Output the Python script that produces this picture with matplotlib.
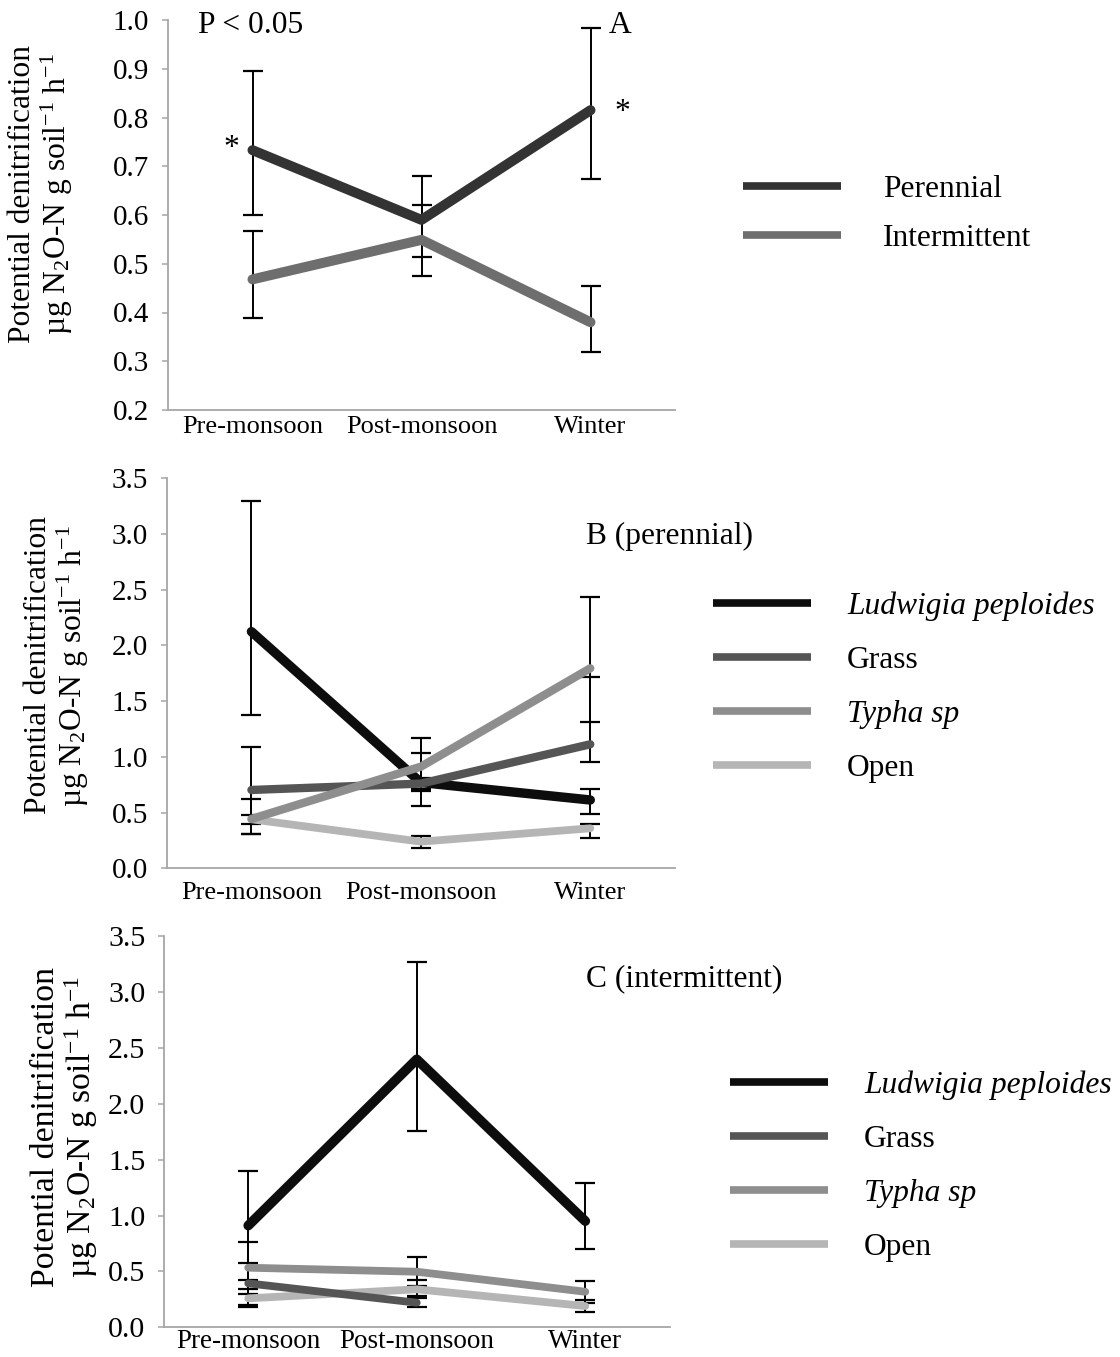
import numpy as np
import matplotlib
matplotlib.use("Agg")
import matplotlib.pyplot as plt
from matplotlib.ticker import FormatStrFormatter

plt.rcParams["font.family"] = ["Liberation Serif", "DejaVu Serif"]
plt.rcParams["mathtext.fontset"] = "custom"
plt.rcParams["mathtext.rm"] = "Liberation Serif"
plt.rcParams["mathtext.it"] = "Liberation Serif:italic"

seasons = ["Pre-monsoon", "Post-monsoon", "Winter"]

# Panel A: stream type
perennial = [0.733, 0.590, 0.815]
perennial_up = [0.162, 0.091, 0.168]
perennial_dn = [0.133, 0.076, 0.141]
intermittent = [0.468, 0.549, 0.380]
intermittent_up = [0.099, 0.072, 0.074]
intermittent_dn = [0.080, 0.074, 0.062]

# Panel B: vegetation, perennial streams
b_ludwigia = [2.124, 0.770, 0.613]
b_ludwigia_up = [1.176, 0.262, 0.099]
b_ludwigia_dn = [0.748, 0.211, 0.126]
b_grass = [0.703, 0.760, 1.113]
b_grass_up = [0.383, 0.050, 0.600]
b_grass_dn = [0.398, 0.050, 0.162]
b_typha = [0.443, 0.912, 1.795]
b_typha_up = [0.179, 0.255, 0.643]
b_typha_dn = [0.138, 0.215, 0.485]
b_open = [0.440, 0.239, 0.359]
b_open_up = [0.040, 0.051, 0.036]
b_open_dn = [0.040, 0.059, 0.090]

# Panel C: vegetation, intermittent streams
c_ludwigia = [0.910, 2.397, 0.950]
c_ludwigia_up = [0.488, 0.868, 0.344]
c_ludwigia_dn = [0.490, 0.641, 0.250]
c_grass = [0.393, 0.220, np.nan]
c_grass_up = [0.185, 0.040, 0.0]
c_grass_dn = [0.190, 0.040, 0.0]
c_typha = [0.533, 0.497, 0.318]
c_typha_up = [0.233, 0.129, 0.099]
c_typha_dn = [0.233, 0.130, 0.100]
c_open = [0.259, 0.340, 0.190]
c_open_up = [0.080, 0.083, 0.050]
c_open_dn = [0.075, 0.060, 0.050]

ylabel_text = "Potential denitrification\nµg N$_2$O-N g soil$^{-1}$ h$^{-1}$"

TICK_FS = 19
TEXT_FS = 22.7
SPINE = "#a6a6a6"

fig = plt.figure(figsize=(11.2, 13.57), dpi=100)
W, H = 1120, 1357


def make_axes(left, right, top, bottom):
    return fig.add_axes([left / W, 1 - bottom / H, (right - left) / W, (bottom - top) / H])


def style_axes(ax, ylim, yticks, xpad, xfs=TICK_FS, yfs=21):
    x = np.arange(len(seasons))
    ax.set_xlim(-0.5, len(seasons) - 0.5)
    ax.set_ylim(*ylim)
    ax.set_yticks(yticks)
    ax.yaxis.set_major_formatter(FormatStrFormatter("%.1f"))
    ax.set_xticks(x)
    ax.set_xticklabels(seasons)
    for s in ["top", "right"]:
        ax.spines[s].set_visible(False)
    for s in ["left", "bottom"]:
        ax.spines[s].set_color(SPINE)
        ax.spines[s].set_linewidth(1.3)
    ax.tick_params(axis="y", direction="out", length=4.5, width=1.1, color=SPINE,
                   labelsize=yfs, pad=9)
    ax.tick_params(axis="x", length=0, labelsize=xfs, pad=xpad)


def draw_series(ax, vals, up, dn, color, lw, label, z):
    x = np.arange(len(seasons))
    ax.errorbar(x, vals, yerr=[dn, up], fmt="none", ecolor="black", elinewidth=1.4,
                capsize=7, capthick=1.6, zorder=2)
    ax.plot(x, vals, color=color, lw=lw, solid_capstyle="round",
            solid_joinstyle="round", label=label, zorder=z)


def add_legend(ax, x_left, y_center, spacing, pad, italic_labels=()):
    leg = ax.legend(loc="center left", bbox_to_anchor=(x_left / W, 1 - y_center / H),
                    bbox_transform=fig.transFigure, frameon=False, fontsize=TEXT_FS,
                    handlelength=3.1, handletextpad=pad, labelspacing=spacing,
                    borderpad=0, borderaxespad=0)
    for line in leg.get_lines():
        line.set_linewidth(5.5)
        line.set_solid_capstyle("butt")
    for t in leg.get_texts():
        if t.get_text() in italic_labels:
            t.set_fontstyle("italic")
    return leg


def add_ylabel(ax, x, y, fs=TEXT_FS):
    ax.text(x, y, ylabel_text, transform=ax.transAxes, rotation=90, ha="center",
            va="center", multialignment="center", fontsize=fs, linespacing=1.05)


# ---- Panel A ----
axA = make_axes(168, 675, 20, 410)
style_axes(axA, (0.2, 1.0), np.arange(0.2, 1.01, 0.1), xpad=4)
draw_series(axA, perennial, perennial_up, perennial_dn, "#333333", 7.2, "Perennial", 4)
draw_series(axA, intermittent, intermittent_up, intermittent_dn, "#6e6e6e", 7.2, "Intermittent", 3)
axA.text(0.06, 0.985, "P < 0.05", transform=axA.transAxes, fontsize=TEXT_FS, ha="left", va="center")
axA.text(0.870, 0.985, "A", transform=axA.transAxes, fontsize=TEXT_FS, ha="left", va="center")
axA.annotate("*", xy=(0, perennial[0]), xytext=(-15.5, 1), textcoords="offset points",
             fontsize=TEXT_FS, ha="center", va="center")
axA.annotate("*", xy=(2, perennial[2]), xytext=(23, -1.5), textcoords="offset points",
             fontsize=TEXT_FS, ha="center", va="center")
add_ylabel(axA, -0.25, 0.555)
add_legend(axA, 743, 214, 0.62, 1.33)

# ---- Panel B ----
axB = make_axes(166.7, 675, 478.3, 868.3)
style_axes(axB, (0.0, 3.5), np.arange(0.0, 3.51, 0.5), xpad=10)
draw_series(axB, b_ludwigia, b_ludwigia_up, b_ludwigia_dn, "#0d0d0d", 6.8, "Ludwigia peploides", 3)
draw_series(axB, b_grass, b_grass_up, b_grass_dn, "#555555", 6.0, "Grass", 5)
draw_series(axB, b_typha, b_typha_up, b_typha_dn, "#8e8e8e", 6.0, "Typha sp", 6)
draw_series(axB, b_open, b_open_up, b_open_dn, "#b5b5b5", 5.6, "Open", 4)
axB.text(0.825, 0.85, "B (perennial)", transform=axB.transAxes, fontsize=TEXT_FS, ha="left", va="center")
add_ylabel(axB, -0.215, 0.52)
add_legend(axB, 713, 687, 0.79, 1.15, italic_labels=("Ludwigia peploides", "Typha sp"))

# ---- Panel C ----
axC = make_axes(164, 669.5, 936, 1327.3)
style_axes(axC, (0.0, 3.5), np.arange(0.0, 3.51, 0.5), xpad=1, xfs=19.5, yfs=21.5)
draw_series(axC, c_ludwigia, c_ludwigia_up, c_ludwigia_dn, "#0d0d0d", 7.0, "Ludwigia peploides", 6)
draw_series(axC, c_grass, c_grass_up, c_grass_dn, "#555555", 5.6, "Grass", 4)
draw_series(axC, c_typha, c_typha_up, c_typha_dn, "#8e8e8e", 5.6, "Typha sp", 5)
draw_series(axC, c_open, c_open_up, c_open_dn, "#b5b5b5", 5.6, "Open", 3)
axC.text(0.835, 0.89, "C (intermittent)", transform=axC.transAxes, fontsize=TEXT_FS, ha="left", va="center")
add_ylabel(axC, -0.195, 0.512, fs=24.3)
add_legend(axC, 730, 1166, 0.79, 1.15, italic_labels=("Ludwigia peploides", "Typha sp"))

fig.savefig("out.png", dpi=100)
